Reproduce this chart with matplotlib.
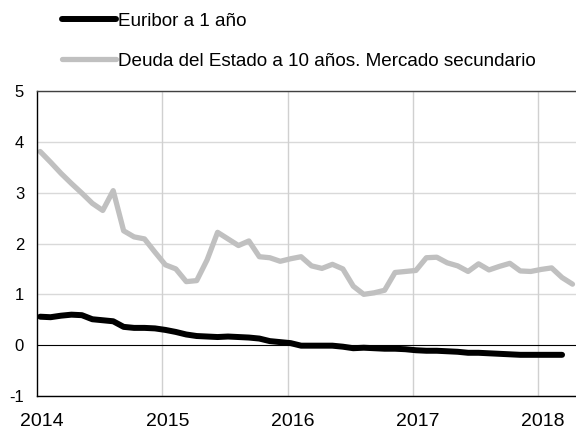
import matplotlib
matplotlib.use("Agg")
import matplotlib.pyplot as plt
from matplotlib.transforms import ScaledTranslation
import numpy as np

plt.rcParams['font.family'] = ['Liberation Sans', 'DejaVu Sans']

start_year = 2014
# Monthly data starting January 2014
euribor = [0.56, 0.55, 0.58, 0.60, 0.59, 0.51, 0.49, 0.47, 0.36, 0.34, 0.34, 0.33,
           0.30, 0.26, 0.21, 0.18, 0.17, 0.16, 0.17, 0.16, 0.15, 0.13, 0.08, 0.06,
           0.04, -0.01, -0.01, -0.01, -0.01, -0.03, -0.06, -0.05, -0.06, -0.07, -0.07, -0.08,
           -0.10, -0.11, -0.11, -0.12, -0.13, -0.15, -0.15, -0.16, -0.17, -0.18, -0.19, -0.19,
           -0.19, -0.19, -0.19]
deuda10 = [3.81, 3.60, 3.38, 3.18, 2.99, 2.79, 2.65, 3.04, 2.25, 2.13, 2.09, 1.83,
           1.58, 1.50, 1.25, 1.27, 1.68, 2.22, 2.09, 1.96, 2.05, 1.74, 1.72, 1.65,
           1.70, 1.74, 1.56, 1.51, 1.59, 1.50, 1.16, 1.00, 1.03, 1.08, 1.43, 1.45,
           1.47, 1.72, 1.73, 1.62, 1.56, 1.45, 1.60, 1.48, 1.55, 1.61, 1.46, 1.45,
           1.49, 1.52, 1.33, 1.20]
labels = ["Euribor a 1 año", "Deuda del Estado a 10 años. Mercado secundario"]
year_ticks = [2014, 2015, 2016, 2017, 2018]
y_ticks = [-1, 0, 1, 2, 3, 4, 5]

x_eur = start_year + (np.arange(len(euribor)) + 0.3) / 12
x_deu = start_year + (np.arange(len(deuda10)) + 0.3) / 12

fig = plt.figure(figsize=(5.76, 4.34), dpi=100)
ax = fig.add_axes([37/576, 1 - 396/434, 1 - 37/576, (396 - 91)/434])

ax.set_xlim(2014, 2018.303)
ax.set_ylim(-1, 5)

for yt in y_ticks:
    if yt != 0:
        ax.axhline(yt, color='#d9d9d9', lw=1.0, zorder=0)
for xt in year_ticks[1:]:
    ax.axvline(xt, color='#d0d0d0', lw=1.0, zorder=0)
ax.axhline(0, color='black', lw=0.8, zorder=1)

l1, = ax.plot(x_eur, euribor, color='black', lw=4.3, solid_joinstyle='round',
              solid_capstyle='round', zorder=3, label=labels[0])
l2, = ax.plot(x_deu, deuda10, color='#c0c0c0', lw=3.8, solid_joinstyle='round',
              solid_capstyle='round', zorder=2, label=labels[1])

ax.set_xticks(year_ticks)
ax.set_yticks(y_ticks)
ax.set_yticklabels([str(v) for v in y_ticks])
ax.tick_params(axis='both', length=0)
ax.tick_params(axis='y', pad=9.3, labelsize=12)
ax.tick_params(axis='x', pad=12.5, labelsize=14)
for lab in ax.get_xticklabels():
    lab.set_transform(lab.get_transform() + ScaledTranslation(5/100, 0, fig.dpi_scale_trans))

for side in ['left', 'bottom']:
    ax.spines[side].set_color('black')
    ax.spines[side].set_linewidth(1.0)
ax.spines['top'].set_color('#404040')
ax.spines['top'].set_linewidth(1.0)
ax.spines['right'].set_visible(False)

fig.legend(handles=[l1, l2], loc='upper left', bbox_to_anchor=(61.5/576, 0.9717),
           frameon=False, fontsize=13.6, handlelength=2.88, handletextpad=0.12,
           labelspacing=1.22, borderpad=0, borderaxespad=0)

fig.savefig('out.png', dpi=100)
